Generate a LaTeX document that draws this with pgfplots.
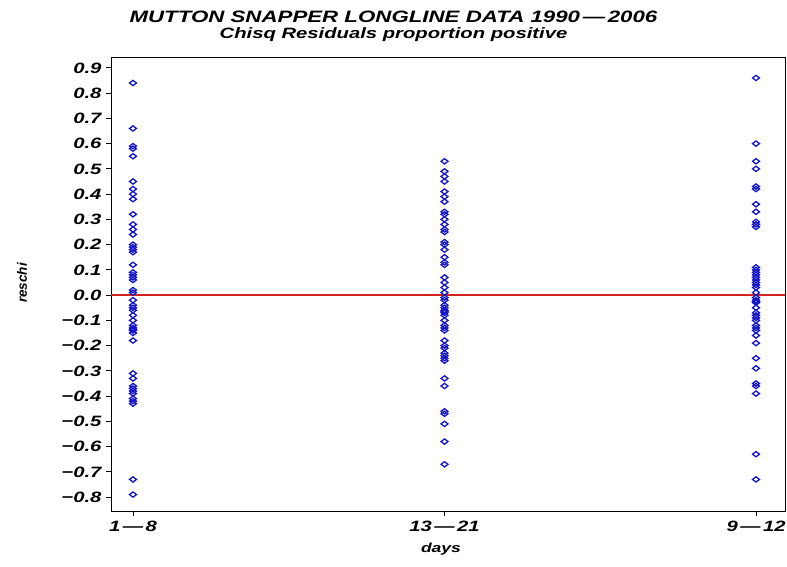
\documentclass[border=0pt]{standalone}
\usepackage{fontspec}
\setmainfont{Liberation Sans}[FakeStretch=1.35]
\newfontfamily\plainsans{Liberation Sans}
\usepackage{pgfplots}
\pgfplotsset{compat=1.18}

\definecolor{ptblue}{RGB}{20,20,200}
\definecolor{refred}{RGB}{210,35,30}

\begin{document}
\begin{tikzpicture}
\useasboundingbox (-111pt,-55pt) rectangle (676pt,511pt);
\begin{axis}[
  at={(0,0)}, anchor=south west,
  scale only axis, width=674pt, height=454pt,
  xmin=-0.0706, xmax=2.093,
  ymin=-0.855, ymax=0.943,
  axis line style={black, line width=0.9pt},
  tick pos=left, tick align=outside,
  major tick length=5pt,
  every tick/.style={black, line width=0.9pt},
  xtick={0,1,2},
  xticklabels={1\,—\,8, 13\,—\,21, 9\,—\,12},
  ytick={-0.8,-0.7,-0.6,-0.5,-0.4,-0.3,-0.2,-0.1,0,0.1,0.2,0.3,0.4,0.5,0.6,0.7,0.8,0.9},
  yticklabels={−0.8,−0.7,−0.6,−0.5,−0.4,−0.3,−0.2,−0.1,0.0,0.1,0.2,0.3,0.4,0.5,0.6,0.7,0.8,0.9},
  tick label style={font=\fontsize{15}{17}\selectfont\bfseries\itshape},
  yticklabel style={xshift=-1pt},
  xticklabel style={yshift=-1pt},
]
\addplot[draw=refred, line width=1.3pt, mark=none] table {
x y
-0.0706 0
2.093 0
};
% 1-8
\addplot[only marks, mark=diamond, mark size=3.3pt, ptblue,
  mark options={xscale=1.4, yscale=0.8, line width=1.3pt, fill=none}] coordinates {
(0,0.84) (0,0.66) (0,0.59) (0,0.58) (0,0.55) (0,0.45) (0,0.42) (0,0.40) (0,0.38)
(0,0.32) (0,0.28) (0,0.26) (0,0.24) (0,0.20) (0,0.19) (0,0.18) (0,0.17) (0,0.12)
(0,0.09) (0,0.08) (0,0.07) (0,0.06) (0,0.02) (0,0.01) (0,-0.02) (0,-0.04) (0,-0.05)
(0,-0.06) (0,-0.08) (0,-0.10) (0,-0.12) (0,-0.13) (0,-0.135) (0,-0.14) (0,-0.15)
(0,-0.18) (0,-0.31) (0,-0.33) (0,-0.36) (0,-0.37) (0,-0.38) (0,-0.39) (0,-0.41)
(0,-0.42) (0,-0.43) (0,-0.73) (0,-0.79)};
% 13-21
\addplot[only marks, mark=diamond, mark size=3.3pt, ptblue,
  mark options={xscale=1.4, yscale=0.8, line width=1.3pt, fill=none}] coordinates {
(1,0.53) (1,0.49) (1,0.47) (1,0.45) (1,0.41) (1,0.39) (1,0.37) (1,0.33) (1,0.32)
(1,0.30) (1,0.28) (1,0.26) (1,0.25) (1,0.21) (1,0.20) (1,0.18) (1,0.15) (1,0.13)
(1,0.12) (1,0.07) (1,0.05) (1,0.03) (1,0.01) (1,-0.01) (1,-0.02) (1,-0.04) (1,-0.05)
(1,-0.06) (1,-0.065) (1,-0.07) (1,-0.08) (1,-0.10) (1,-0.12) (1,-0.13) (1,-0.14)
(1,-0.18) (1,-0.20) (1,-0.21) (1,-0.23) (1,-0.24) (1,-0.25) (1,-0.26) (1,-0.33)
(1,-0.36) (1,-0.46) (1,-0.47) (1,-0.51) (1,-0.58) (1,-0.67)};
% 9-12
\addplot[only marks, mark=diamond, mark size=3.3pt, ptblue,
  mark options={xscale=1.4, yscale=0.8, line width=1.3pt, fill=none}] coordinates {
(2,0.86) (2,0.60) (2,0.53) (2,0.50) (2,0.43) (2,0.42) (2,0.36) (2,0.33) (2,0.29)
(2,0.28) (2,0.27) (2,0.11) (2,0.10) (2,0.09) (2,0.08) (2,0.07) (2,0.06) (2,0.05)
(2,0.04) (2,0.03) (2,0.01) (2,-0.01) (2,-0.02) (2,-0.025) (2,-0.03) (2,-0.05)
(2,-0.07) (2,-0.08) (2,-0.09) (2,-0.10) (2,-0.12) (2,-0.13) (2,-0.14) (2,-0.16)
(2,-0.19) (2,-0.25) (2,-0.29) (2,-0.35) (2,-0.36) (2,-0.39) (2,-0.63) (2,-0.73)};
\end{axis}
\node[anchor=base, font=\fontsize{16.5}{18}\selectfont\bfseries\itshape]
  at (282.5pt,488pt) {MUTTON SNAPPER LONGLINE DATA 1990\,—\,2006};
\node[anchor=base, font=\fontsize{15}{17}\selectfont\bfseries\itshape]
  at (282.5pt,472pt) {Chisq Residuals proportion positive};
\node[font=\fontsize{13}{15}\selectfont\bfseries\itshape] at (330pt,-38pt) {days};
\node[rotate=90, font=\plainsans\fontsize{13.5}{15}\selectfont\bfseries\itshape]
  at (-89pt,228pt) {reschi};
\end{tikzpicture}
\end{document}
